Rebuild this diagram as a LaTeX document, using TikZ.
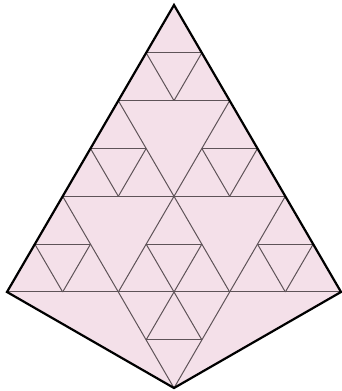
\documentclass[tikz,border=0pt]{standalone}
\usetikzlibrary{calc}

\definecolor{petal}{HTML}{F4E0E9}
\definecolor{seamgray}{HTML}{5E5358}

\begin{document}
\begin{tikzpicture}[
  x=1pt, y=-1pt,
  seam/.style={draw=seamgray, line width=1pt},
  rim/.style={draw=black, line width=2.2pt, line join=miter},
]
\useasboundingbox (0,0) rectangle (342,391);
% ---- lattice of the big triangle ----
\def\side{55.67}
\def\rowh{47.83}
\foreach \k in {0,...,6}
  \foreach \j in {0,...,\k}
    \coordinate (p\k\j) at ({174+(\j-\k/2)*\side}, {5+\k*\rowh});
\coordinate (q0) at ({174-\side/2}, {5+7*\rowh});
\coordinate (q1) at ({174+\side/2}, {5+7*\rowh});
\coordinate (bot) at (174,388);
% ---- kite fill ----
\fill[petal] (p00) -- (p60) -- (bot) -- (p66) -- cycle;
% ---- horizontal seams ----
\foreach \a/\b in {p10/p11, p20/p22, p30/p31, p32/p33, p40/p44,
                   p50/p51, p52/p53, p54/p55, p60/p66, q0/q1}
  \draw[seam] (\a) -- (\b);
% ---- slanted seams ----
\foreach \a/\b in {p10/p21, p11/p21, p20/p64, p22/p62,
                   p30/p41, p31/p41, p32/p43, p33/p43,
                   p40/p62, p44/p64, p62/bot, p64/bot,
                   p50/p61, p51/p61, p52/p63, p53/p63, p54/p65, p55/p65,
                   p63/q0, p63/q1}
  \draw[seam] (\a) -- (\b);
% ---- outline ----
\draw[rim] (p60) -- (p00) -- (p66) -- (bot) -- cycle;
\end{tikzpicture}
\end{document}
